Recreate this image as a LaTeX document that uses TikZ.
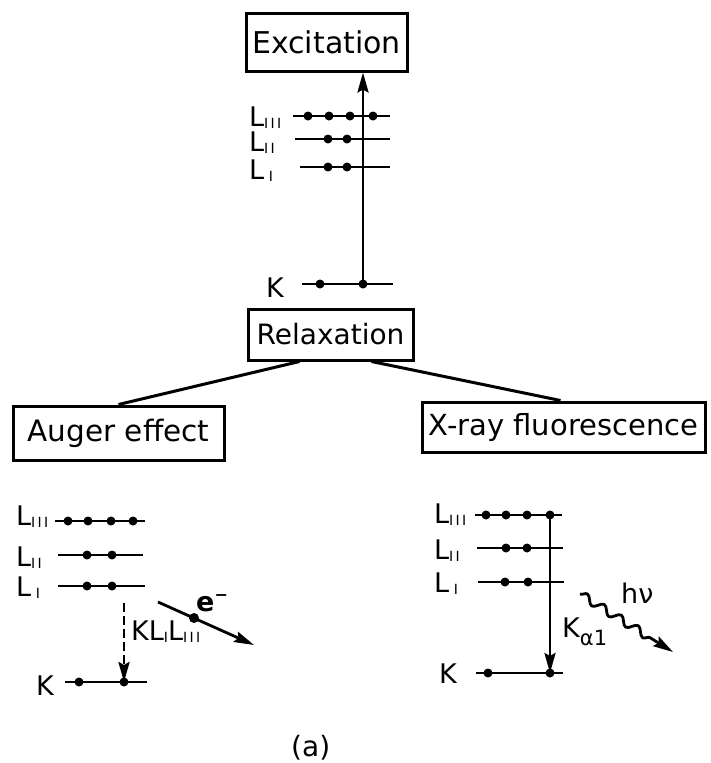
\documentclass[tikz,border=0pt]{standalone}
\usepackage{fontspec}
\setmainfont{DejaVu Sans}
\usetikzlibrary{arrows.meta,calc,decorations.pathmorphing}
\newcommand\lsub[1]{\raisebox{-2pt}{\fontsize{14}{14}\selectfont #1}}
\begin{document}
\begin{tikzpicture}[x=1pt,y=-1pt,
  boxst/.style={draw,line width=3pt,inner sep=0pt,font=\fontsize{28}{28}\selectfont},
  lab/.style={inner sep=0pt,font=\fontsize{27}{27}\selectfont,anchor=base west},
  lev/.style={line width=2.8pt},
  conn/.style={line width=3pt},
  tip/.style={-{Stealth[length=20pt,width=11pt,inset=3pt]}},
  arr/.style={line width=2.8pt,tip}]
\useasboundingbox (0,0) rectangle (710,763);

% boxes
\node[boxst,minimum width=161,minimum height=58,font=\fontsize{30}{30}\selectfont] (exc) at (326.5,42) {Excitation};
\node[boxst,minimum width=165,minimum height=51] (rel) at (330.5,334.5) {Relaxation};
\node[boxst,minimum width=211,minimum height=54,font=\fontsize{29.5}{29.5}\selectfont] (aug) at (118.5,433) {Auger effect};
\node[boxst,minimum width=283,minimum height=50,font=\fontsize{29}{29}\selectfont] (xrf) at (563.5,427) {X-ray fluorescence};

\draw[conn] ($(rel.south)+(-31,0)$) -- (aug.north);
\draw[conn] ($(rel.south)+(41,0)$) -- ($(xrf.north)+(-3,0)$);

% ---------- top: excitation ----------
\node[lab] (tL3) at (249,126) {L\lsub{I\,I\,I}};
\node[lab] (tL2) at (249,151) {L\lsub{I\,I}};
\node[lab] (tL1) at (249,179) {L\lsub{\,\,I}};
\node[lab] (tK) at (266,297) {K};
\draw[lev] (293,116) -- (390,116);
\draw[lev] (295,139) -- (390,139);
\draw[lev] (300,167) -- (390,167);
\draw[lev] (302,284) -- (393,284);
\foreach \x in {308,329,350,373} \fill (\x,116) circle (4.5);
\foreach \x in {328,347} \fill (\x,139) circle (4.5);
\foreach \x in {328,347} \fill (\x,167) circle (4.5);
\foreach \x in {320,363} \fill (\x,284) circle (4.5);
\coordinate (kexc) at (363,284);
\draw[arr] (kexc) -- (kexc |- exc.south);

% ---------- Auger ----------
\node[lab] (aL3) at (16,525) {L\lsub{I\,I\,I}};
\node[lab] (aL2) at (16,566) {L\lsub{I\,I}};
\node[lab] (aL1) at (16,596) {L\lsub{\,\,I}};
\node[lab] (aK) at (36,695) {K};
\draw[lev] (55,521) -- (145,521);
\draw[lev] (58,555) -- (143,555);
\draw[lev] (58,586) -- (145,586);
\draw[lev] (65,682) -- (147,682);
\foreach \x in {68,88,111,133} \fill (\x,521) circle (4.5);
\foreach \x in {87,112} \fill (\x,555) circle (4.5);
\foreach \x in {87,112} \fill (\x,586) circle (4.5);
\foreach \x in {79,124} \fill (\x,682) circle (4.5);
\coordinate (adtop) at (124,603);
\coordinate (adbot) at (124,682);
\draw[arr,dash pattern=on 9pt off 4pt] (adtop) -- (adbot);
\node[lab] (klab) at (131,640) {KL\lsub{I}L\lsub{I\,I\,I}};
\coordinate (estart) at (158,602);
\coordinate (eend) at (254,645);
\draw[arr] (estart) -- (eend);
\fill (194,618) circle (5);
\node[lab] (elab) at (196,611) {\textbf{e}\raisebox{11pt}{\fontsize{16}{16}\selectfont\textbf{−}}};

% ---------- X-ray fluorescence ----------
\node[lab] (xL3) at (434,523) {L\lsub{I\,I\,I}};
\node[lab] (xL2) at (434,559) {L\lsub{I\,I}};
\node[lab] (xL1) at (434,592) {L\lsub{\,\,I}};
\node[lab] (xK) at (439,683) {K};
\draw[lev] (475,515) -- (562,515);
\draw[lev] (477,548) -- (563,548);
\draw[lev] (478,582) -- (564,582);
\draw[lev] (476,673) -- (563,673);
\foreach \x in {486,506,527,550} \fill (\x,515) circle (4.5);
\foreach \x in {506,527} \fill (\x,548) circle (4.5);
\foreach \x in {505,528} \fill (\x,582) circle (4.5);
\foreach \x in {488,550} \fill (\x,673) circle (4.5);
\coordinate (xtop) at (550,515);
\coordinate (xbot) at (550,673);
\draw[arr] (xtop) -- (xbot);
\node[lab] (kalab) at (562,637) {K\raisebox{-8pt}{\fontsize{21}{21}\selectfont α1}};
\coordinate (wstart) at (580,594);
\coordinate (wend) at (673,652);
\draw[line width=2.8pt,tip,line join=round,
  decorate,decoration={snake,amplitude=4pt,segment length=20pt,post length=24pt}]
  (wstart) -- (wend);
\node[lab] (hnu) at (621,603) {hν};

% caption
\node[lab,font=\fontsize{28}{28}\selectfont] (cap) at (291,756) {(a)};
\end{tikzpicture}
\end{document}
